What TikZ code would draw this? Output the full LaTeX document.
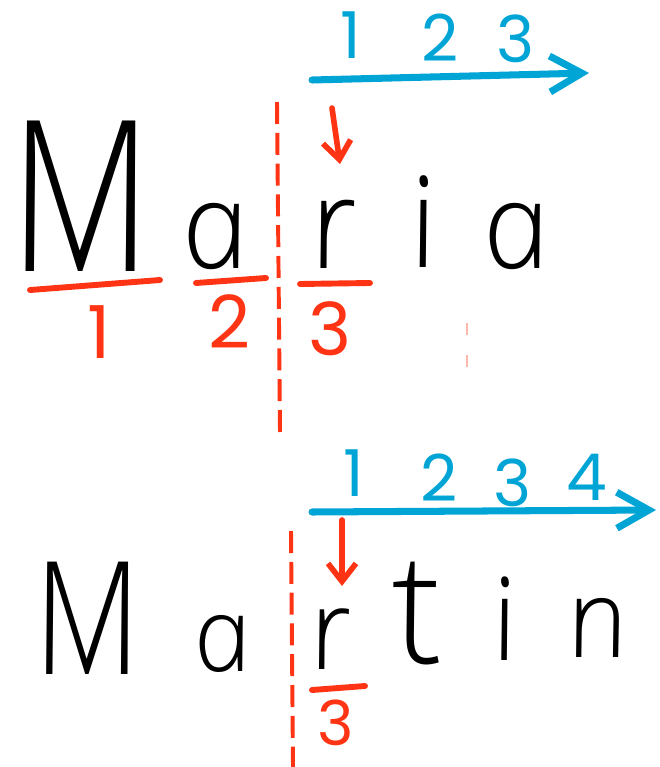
\documentclass[tikz,border=0pt]{standalone}
\usepackage{fontspec}
% upright single-storey letters: italic face, slant taken out
\IfFontExistsTF{Open Sans Light Italic}
  {\newfontface\handfont{Open Sans Light Italic}[FakeSlant=-0.2]}
  {\newfontfamily\handfontfam{Open Sans}[ItalicFeatures={FakeSlant=-0.2}]
   \newcommand\handfont{\handfontfam\itshape}}
\newfontfamily\digitfont{Poppins}
\usetikzlibrary{arrows.meta}
\definecolor{penred}{RGB}{255,52,20}
\definecolor{penblue}{RGB}{0,165,214}

\begin{document}
\begin{tikzpicture}[
    x=0.25mm, y=-0.25mm,
    % handwritten letters (baseline anchored)
    glyph/.style={inner sep=0pt, anchor=base, text=black,
                  font=\handfont\fontsize{#1pt}{#1pt}\selectfont},
    % red index digits below the letters
    redno/.style={inner sep=0pt, text=penred,
                  font=\digitfont\fontsize{#1pt}{#1pt}\selectfont},
    % blue step digits above the scale arrow
    blueno/.style={inner sep=0pt, text=penblue,
                   font=\digitfont\fontsize{#1pt}{#1pt}\selectfont},
    scalearrow/.style={-{Straight Barb[length=8mm, width=9mm]},
                       line width=5pt, line cap=round, penblue},
    pointer/.style={-{Straight Barb[length=4.5mm, width=7mm]},
                    line width=4pt, line cap=round, penred},
    underline/.style={line width=4.2pt, line cap=round, penred},
    cut/.style={line width=2.8pt, penred, dash pattern=on 5.5mm off 2.2mm},
]
    \useasboundingbox (0,0) rectangle (659,767);

    % ---- first word: Maria ----
    \node[glyph=150, xscale=0.85, transform shape] (maM) at (90,271) {M};
    \foreach \nm/\ch/\x/\y/\sz in {maa/a/222/268/86, mar/r/340/268/90,
                                   mai/i/430/267/90, maaa/a/523/268/86}
      \node[glyph=\sz] (\nm) at (\x,\y) {\ch};

    % underlines and red indices
    \draw[underline] (30,290) -- (160,280);
    \draw[underline] (196,283) -- (266,278);
    \draw[underline] (300,284) -- (370,283);
    \foreach \nm/\d/\x/\y in {mr1/1/99/332, mr2/2/230/322, mr3/3/330/329}
      \node[redno=52] (\nm) at (\x,\y) {\d};

    % cut line and pointer
    \coordinate (macuttop) at (277,102);
    \coordinate (macutbot) at (280,432);
    \draw[cut] (macuttop) -- (macutbot);
    \coordinate (maptrA) at (332,108);
    \coordinate (maptrB) at (340,164);
    \draw[pointer] (maptrA) -- (maptrB);
    % faint stray mark
    \coordinate (strayA) at (467,323);
    \coordinate (strayB) at (467,378);
    \draw[penred, opacity=0.35, line width=1pt, dash pattern=on 3mm off 5mm] (strayA) -- (strayB);

    % blue scale 1 2 3
    \coordinate (mascaleA) at (312,80);
    \coordinate (mascaleB) at (589,73);
    \draw[scalearrow] (mascaleA) -- (mascaleB);
    \foreach \nm/\d/\x/\y in {mb1/1/351/35, mb2/2/440/38, mb3/3/516/39}
      \node[blueno=46] (\nm) at (\x,\y) {\d};

    % ---- second word: Martin ----
    \node[glyph=112, xscale=0.85, transform shape] (mtM) at (94,674) {M};
    \foreach \nm/\ch/\x/\y/\sz in {mta/a/228/671/74, mtr/r/336/669/80,
                                   mtt/t/424/663/110, mti/i/511/660/82,
                                   mtn/n/603/657/78}
      \node[glyph=\sz] (\nm) at (\x,\y) {\ch};

    \draw[underline] (312,690) -- (365,686);
    \node[redno=44] (mtr3) at (336,723) {3};

    \coordinate (mtcuttop) at (291,531);
    \coordinate (mtcutbot) at (293,767);
    \draw[cut] (mtcuttop) -- (mtcutbot);
    \coordinate (mtptrA) at (342,520);
    \coordinate (mtptrB) at (342,586);
    \draw[pointer] (mtptrA) -- (mtptrB);

    % blue scale 1 2 3 4
    \coordinate (mtscaleA) at (312,512);
    \coordinate (mtscaleB) at (656,510);
    \draw[scalearrow] (mtscaleA) -- (mtscaleB);
    \foreach \nm/\d/\x/\y in {mtb1/1/354/473, mtb2/2/439/478,
                              mtb3/3/513/483, mtb4/4/587/477}
      \node[blueno=46] (\nm) at (\x,\y) {\d};
\end{tikzpicture}
\end{document}
